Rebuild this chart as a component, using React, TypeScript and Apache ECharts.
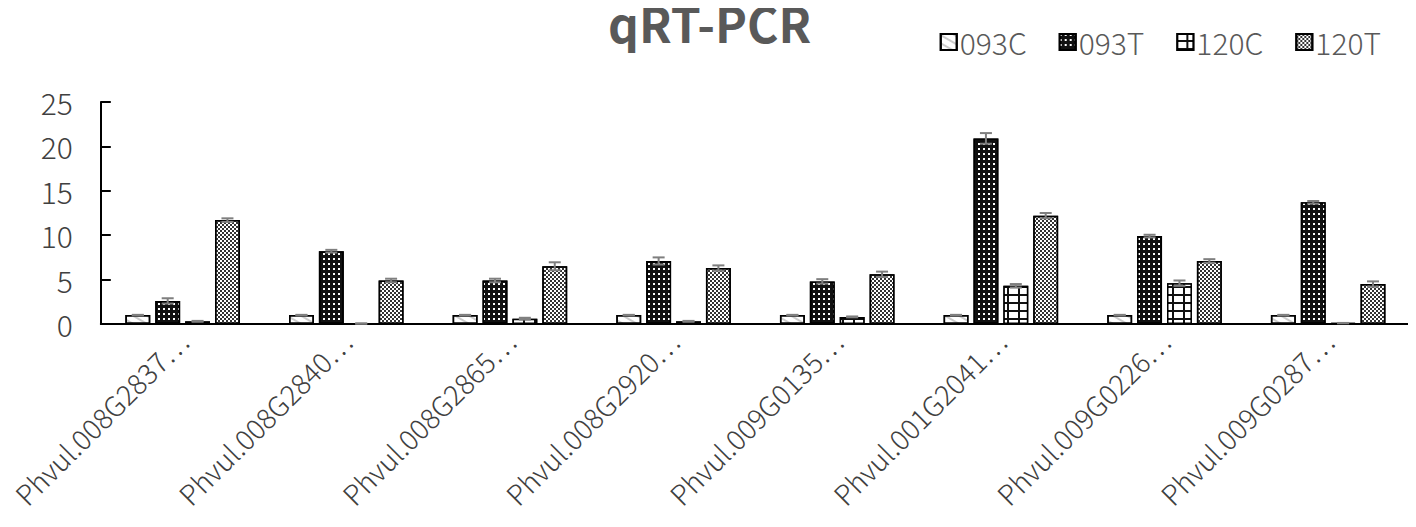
import React, { useEffect, useRef } from "react";
import * as echarts from "echarts";

const categories = [
  "Phvul.008G2837⋯",
  "Phvul.008G2840⋯",
  "Phvul.008G2865⋯",
  "Phvul.008G2920⋯",
  "Phvul.009G0135⋯",
  "Phvul.001G2041⋯",
  "Phvul.009G0226⋯",
  "Phvul.009G0287⋯",
];
const seriesNames = ["093C", "093T", "120C", "120T"];
const v093C = [1, 1, 1, 1, 1, 1, 1, 1];
const v093T = [2.6, 8.2, 4.9, 7.1, 4.8, 20.9, 9.9, 13.7];
const v120C = [0.3, 0.05, 0.6, 0.3, 0.8, 4.3, 4.6, 0.1];
const v120T = [11.7, 4.9, 6.5, 6.3, 5.6, 12.2, 7.1, 4.5];
const e093C = [0.03, 0.03, 0.03, 0.03, 0.03, 0.03, 0.03, 0.03];
const e093T = [0.3, 0.15, 0.2, 0.4, 0.25, 0.6, 0.15, 0.15];
const e120C = [0.05, 0.02, 0.1, 0.05, 0.05, 0.2, 0.3, 0.02];
const e120T = [0.2, 0.2, 0.45, 0.3, 0.3, 0.3, 0.2, 0.3];
const yTicks = [0, 5, 10, 15, 20, 25];

const values = [v093C, v093T, v120C, v120T];
const errors = [e093C, e093T, e120C, e120T];

const FONT = "'Noto Sans CJK SC', 'Noto Sans', sans-serif";
const CAT_GAP = 0.3;
const BAR_GAP = 0.2;

const fills = ["#ffffff", "#111111", "#111111", "#ffffff"];
const baseDecal = {
  symbolSize: 1,
  symbolKeepAspect: false,
  rotation: 0,
  backgroundColor: null,
  maxTileWidth: 512,
  maxTileHeight: 512,
};
const decals: any[] = [
  "none",
  {
    ...baseDecal,
    symbol: "rect",
    color: "#ffffff",
    dashArrayX: [2, 3],
    dashArrayY: [2, 3],
  },
  {
    ...baseDecal,
    symbol: "rect",
    color: "#ffffff",
    dashArrayX: [9, 2],
    dashArrayY: [6, 2],
  },
  {
    ...baseDecal,
    symbol: "rect",
    color: "#333333",
    dashArrayX: [
      [1.5, 1.5],
      [0, 1.5, 1.5, 0],
    ],
    dashArrayY: [1.5, 0],
  },
];

export default function App() {
  const ref = useRef<HTMLDivElement>(null);
  useEffect(() => {
    if (!ref.current) return;
    const chart = echarts.init(ref.current, undefined, { renderer: "svg" });
    const n = seriesNames.length;

    const barSeries = seriesNames.map((name, i) => ({
      name,
      type: "bar",
      data: values[i],
      barCategoryGap: CAT_GAP * 100 + "%",
      barGap: BAR_GAP * 100 + "%",
      itemStyle: {
        color: fills[i],
        borderColor: "#000000",
        borderWidth: 1.5,
        decal: decals[i],
      },
      emphasis: { disabled: true },
    }));

    const errSeries = seriesNames.map((name, i) => ({
      name: name + "-err",
      type: "custom",
      z: 10,
      silent: true,
      data: values[i].map((v, j) => [j, v, errors[i][j]]),
      encode: { x: 0, y: 1 },
      renderItem: (params: any, api: any) => {
        const idx = api.value(0);
        const val = api.value(1);
        const err = api.value(2);
        const band = api.size([1, 0])[0];
        const total = band * (1 - CAT_GAP);
        const bw = total / (n + (n - 1) * BAR_GAP);
        const cx0 = api.coord([idx, 0])[0];
        const cx = cx0 - total / 2 + i * bw * (1 + BAR_GAP) + bw / 2;
        const yTop = api.coord([idx, val + err])[1];
        const yBot = api.coord([idx, Math.max(0, val - err)])[1];
        const cap = 6;
        const style = { stroke: "#7f7f7f", lineWidth: 2 };
        return {
          type: "group",
          children: [
            { type: "line", shape: { x1: cx, y1: yTop, x2: cx, y2: yBot }, style },
            { type: "line", shape: { x1: cx - cap, y1: yTop, x2: cx + cap, y2: yTop }, style },
            { type: "line", shape: { x1: cx - cap, y1: yBot, x2: cx + cap, y2: yBot }, style },
          ],
        };
      },
    }));

    chart.setOption({
      animation: false,
      aria: { enabled: true, decal: { show: true } },
      title: {
        text: "qRT-PCR",
        left: 600,
        top: -6,
        padding: 0,
        textStyle: {
          fontFamily: FONT,
          fontSize: 48,
          lineHeight: 40,
          fontWeight: "bold",
          color: "#595959",
        },
      },
      legend: {
        data: seriesNames,
        right: 30,
        top: 14,
        itemWidth: 16,
        itemHeight: 16,
        itemGap: 32,
        icon: "rect",
        itemStyle: { borderColor: "#000", borderWidth: 2 },
        textStyle: {
          fontFamily: FONT,
          fontSize: 30,
          fontWeight: 300,
          color: "#595959",
          padding: [0, 0, 0, -2],
        },
      },
      grid: { left: 82, right: 6, top: 94, bottom: 203, containLabel: false },
      xAxis: {
        type: "category",
        data: categories,
        axisLine: { show: true, lineStyle: { color: "#000", width: 2 } },
        axisTick: { show: false },
        axisLabel: {
          rotate: 45,
          interval: 0,
          margin: 12,
          fontFamily: FONT,
          fontSize: 28,
          fontWeight: 300,
          color: "#404040",
        },
      },
      yAxis: {
        type: "value",
        min: 0,
        max: 25,
        interval: 5,
        splitLine: { show: false },
        axisLine: { show: true, lineStyle: { color: "#000", width: 2 } },
        axisTick: { show: true, inside: true, length: 10, lineStyle: { color: "#000", width: 2 } },
        axisLabel: {
          margin: 28,
          fontFamily: FONT,
          fontSize: 30,
          fontWeight: 300,
          color: "#404040",
          formatter: (v: number) => (yTicks.includes(v) ? String(v) : ""),
        },
      },
      series: [...barSeries, ...errSeries],
    });
    return () => chart.dispose();
  }, []);
  return <div ref={ref} style={{ width: 1408, height: 519 }} />;
}
